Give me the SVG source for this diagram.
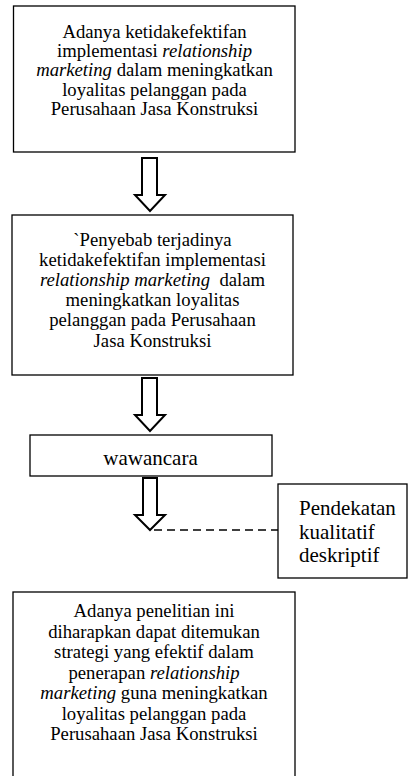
<svg xmlns="http://www.w3.org/2000/svg" width="417" height="776" viewBox="0 0 417 776">
<style>
.box{fill:#fff;stroke:#000;stroke-width:1.3}
.t{font-family:"Liberation Serif","Times New Roman",serif;font-size:18.7px;fill:#000}
.big{font-size:21px}
.c{text-anchor:middle}
.i{font-style:italic}
.arr{fill:#fff;stroke:#000;stroke-width:2;stroke-linejoin:miter}
.dash{stroke:#000;stroke-width:1.3;stroke-dasharray:8 5;fill:none}
</style>
<rect width="417" height="776" fill="#fff"/>
<g id="node-problem">
<rect class="box" x="13.5" y="6" width="281.5" height="146"/>
<text class="t c" x="154.5" y="37.5">Adanya ketidakefektifan</text>
<text class="t c" x="154.5" y="56.9">implementasi <tspan class="i">relationship</tspan></text>
<text class="t c" x="154.5" y="76.3"><tspan class="i">marketing</tspan> dalam meningkatkan</text>
<text class="t c" x="154.5" y="95.7">loyalitas pelanggan pada</text>
<text class="t c" x="154.5" y="115.1">Perusahaan Jasa Konstruksi</text>
</g>
<g id="node-cause">
<rect class="box" x="12" y="215" width="281" height="160"/>
<text class="t c" x="152.5" y="245.5">`Penyebab terjadinya</text>
<text class="t c" x="152.5" y="265.7">ketidakefektifan implementasi</text>
<text class="t c" x="152.5" y="285.9" style="white-space:pre"><tspan class="i">relationship marketing</tspan>  dalam</text>
<text class="t c" x="152.5" y="306.1">meningkatkan loyalitas</text>
<text class="t c" x="152.5" y="326.3">pelanggan pada Perusahaan</text>
<text class="t c" x="152.5" y="346.5">Jasa Konstruksi</text>
</g>
<g id="node-wawancara">
<rect class="box" x="30" y="435" width="242" height="41"/>
<text class="t big c" x="150.5" y="465">wawancara</text>
</g>
<g id="node-pendekatan">
<rect class="box" x="278" y="484" width="129" height="94"/>
<text class="t big" x="299" y="515">Pendekatan</text>
<text class="t big" x="299" y="538.5">kualitatif</text>
<text class="t big" x="299" y="562">deskriptif</text>
</g>
<g id="node-result">
<rect class="box" x="13" y="592" width="282" height="186"/>
<text class="t c" x="154" y="617">Adanya penelitian ini</text>
<text class="t c" x="154" y="637.5">diharapkan dapat ditemukan</text>
<text class="t c" x="154" y="658">strategi yang efektif dalam</text>
<text class="t c" x="154" y="678.5">penerapan <tspan class="i">relationship</tspan></text>
<text class="t c" x="154" y="699"><tspan class="i">marketing</tspan> guna meningkatkan</text>
<text class="t c" x="154" y="719.5">loyalitas pelanggan pada</text>
<text class="t c" x="154" y="740">Perusahaan Jasa Konstruksi</text>
</g>
<g id="connectors">
<path class="arr" d="M142,158 H157 V195 H165 L150,211 L135,195 H142 Z"/>
<path class="arr" d="M142,378 H157 V415 H165 L150,431 L135,415 H142 Z"/>
<path class="arr" d="M143,478 H157 V515 H165 L150,530 L135,515 H143 Z"/>
<line class="dash" x1="154" y1="530" x2="278" y2="530"/>
</g>
</svg>
